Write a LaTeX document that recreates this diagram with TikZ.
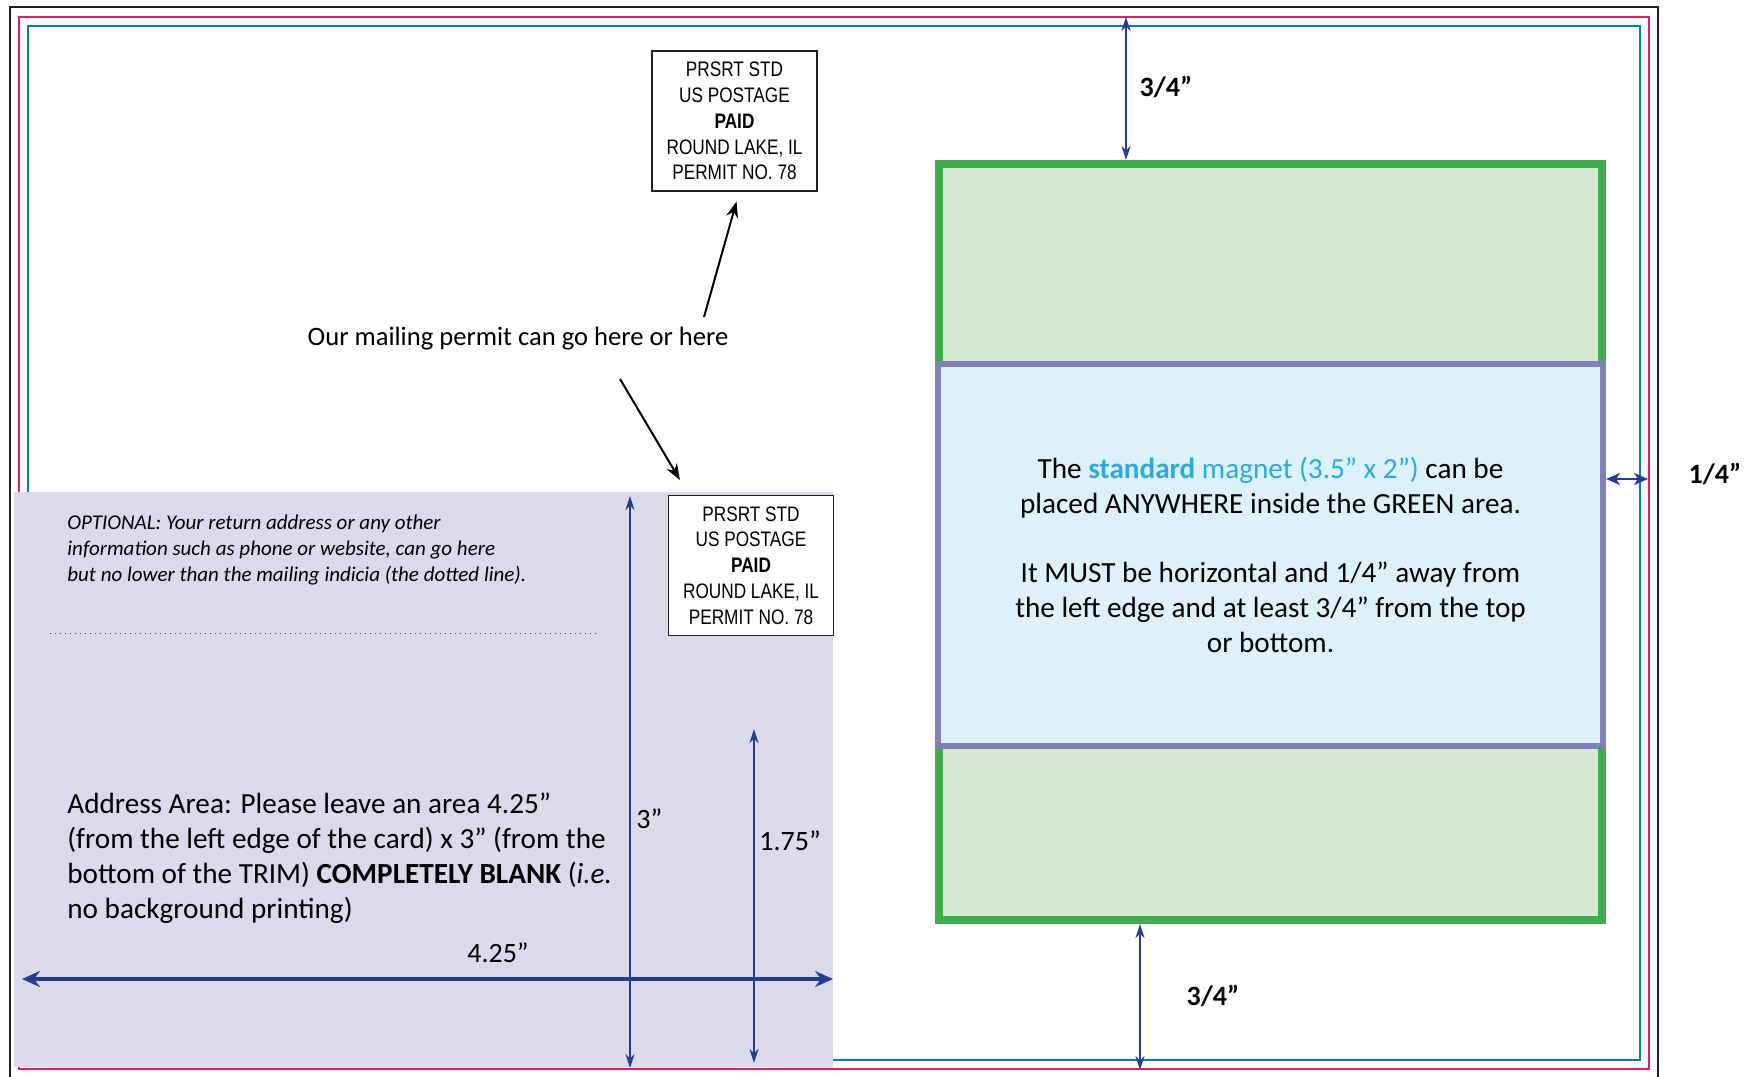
\documentclass[tikz,border=0pt]{standalone}
\usepackage{fontspec}
\setmainfont{Carlito}
\newfontfamily\permitfont[FakeStretch=0.82]{Liberation Sans}
\usetikzlibrary{arrows.meta}
\definecolor{bleedblack}{HTML}{231F20}
\definecolor{trimpink}{HTML}{EC1566}
\definecolor{safeblue}{HTML}{0A7BBA}
\definecolor{addrlav}{HTML}{DADAEA}
\definecolor{greenedge}{HTML}{3DAE49}
\definecolor{greenfill}{HTML}{D5E8D0}
\definecolor{magedge}{HTML}{7E80B6}
\definecolor{magfill}{HTML}{DDF1FA}
\definecolor{magcyan}{HTML}{29ABE2}
\definecolor{dimnavy}{HTML}{253C94}
\tikzset{
  dimline/.style={draw=dimnavy, line width=1.1pt, {Stealth[length=7pt,width=4.5pt]}-{Stealth[length=7pt,width=4.5pt]}},
  bigdimline/.style={draw=dimnavy, line width=1.6pt, {Stealth[length=9pt,width=8pt,inset=3pt]}-{Stealth[length=9pt,width=8pt,inset=3pt]}},
  pointer/.style={draw=black, line width=1pt, -{Stealth[length=8pt,width=6pt]}},
  permitbox/.style={draw=bleedblack, fill=white, line width=0.6pt, minimum width=82.5pt, minimum height=70pt, align=center, inner sep=0pt, font=\permitfont\fontsize{10.5}{12.9}\selectfont},
  marginlabel/.style={font=\bfseries\fontsize{14}{17}\selectfont},
  dimlabel/.style={font=\fontsize{14}{17}\selectfont},
}
\begin{document}
\begin{tikzpicture}[x=0.5pt,y=-0.5pt]
    \useasboundingbox (0,0) rectangle (1754,1076);
    % card outlines: bleed, trim, safe
    \draw[bleedblack, line width=1.2pt] (10,7) rectangle (1658,1100);
    \draw[trimpink, line width=1pt] (19,17) rectangle (1649,1069);
    \draw[safeblue, line width=1pt] (28,26) rectangle (1640,1060);
    % address area
    \fill[addrlav] (14,492) rectangle (833,1067);
    \draw[dotted, line width=0.5pt, black!75] (50,633) -- (600,633);

    \node[draw=greenedge, fill=greenfill, line width=4pt, minimum width=331.5pt, minimum height=378pt] (safe) at (1270.5,542) {};
    \node[draw=magedge, fill=magfill, line width=3pt, minimum width=332.5pt, minimum height=191pt, align=center, font=\fontsize{14.6}{17.4}\selectfont] (magnet) at (1270.5,555)
        {The {\bfseries\color{magcyan}standard} {\color{magcyan}magnet (3.5” x 2”)} can be\\
         placed ANYWHERE inside the GREEN area.\\[17.4pt]
         It MUST be horizontal and 1/4” away from\\
         the left edge and at least 3/4” from the top\\
         or bottom.};

    \node[permitbox] (permittop) at (734.5,121) {PRSRT STD\\US POSTAGE\\\textbf{PAID}\\ROUND LAKE, IL\\PERMIT NO. 78};
    \node[permitbox] (permitlow) at (751,565.5) {PRSRT STD\\US POSTAGE\\\textbf{PAID}\\ROUND LAKE, IL\\PERMIT NO. 78};

    \node[font=\fontsize{13.3}{16}\selectfont] (mailnote) at (518,339) {Our mailing permit can go here or here};
    \coordinate (ptrfromA) at (704,317);
    \coordinate (ptrfromB) at (620,379);
    \draw[pointer] (ptrfromA) -- ([shift={(2,10)}]permittop.south);
    \draw[pointer] (ptrfromB) -- ([shift={(12,-15)}]permitlow.north west);

    \node[anchor=west, align=left, inner sep=0pt, font=\itshape\fontsize{10.5}{12.9}\selectfont] (optnote) at (67,550)
        {OPTIONAL: Your return address or any other\\
         information such as phone or website, can go here\\
         but no lower than the mailing indicia (the dotted line).};
    \node[anchor=west, align=left, inner sep=0pt, font=\fontsize{14.6}{17.5}\selectfont] (addrnote) at (67,858)
        {Address Area: Please leave an area 4.25”\\
         (from the left edge of the card) x 3” (from the\\
         bottom of the TRIM) \textbf{COMPLETELY BLANK} (\textit{i.e.}\\
         no background printing)};

    % address area dimensions
    \coordinate (wideL) at (22,979);
    \coordinate (wideR) at (833,979);
    \draw[bigdimline] (wideL) -- (wideR);
    \node[dimlabel] (widelabel) at (498,953) {4.25”};
    \coordinate (tallT) at (630,496);
    \coordinate (tallB) at (630,1068);
    \draw[dimline] (tallT) -- (tallB);
    \node[dimlabel, anchor=west, inner sep=0pt] (talllabel) at (636,819) {3”};
    \coordinate (shortT) at (754,729);
    \coordinate (shortB) at (754,1063);
    \draw[dimline] (shortT) -- (shortB);
    \node[dimlabel, anchor=west, inner sep=0pt] (shortlabel) at (759,841) {1.75”};

    % magnet margins
    \coordinate (topmark) at (1126,17);
    \draw[dimline] (topmark) -- (topmark |- safe.north);
    \node[marginlabel] (toplabel) at (1166,87) {3/4”};
    \coordinate (botmark) at (1140,1070);
    \draw[dimline] (safe.south -| botmark) -- (botmark);
    \node[marginlabel] (botlabel) at (1213,996) {3/4”};
    \coordinate (sidemark) at (1648,479);
    \draw[dimline, {Stealth[length=7pt,width=6pt,inset=2pt]}-{Stealth[length=7pt,width=6pt,inset=2pt]}] (safe.east |- sidemark) -- (sidemark);
    \node[marginlabel] (sidelabel) at (1715,474) {1/4”};
\end{tikzpicture}
\end{document}
